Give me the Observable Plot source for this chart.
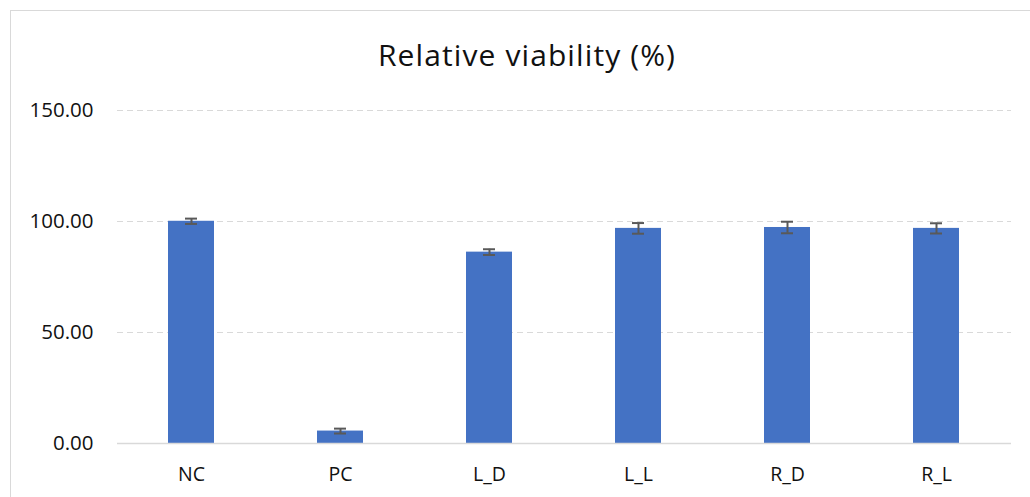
<!DOCTYPE html>
<html>
<head>
<meta charset="utf-8">
<script src="https://cdn.jsdelivr.net/npm/d3@7"></script>
<script src="https://cdn.jsdelivr.net/npm/@observablehq/plot@0.6"></script>
<style>
  html, body { margin: 0; padding: 0; background: #fff; }
  #wrap { position: relative; width: 1030px; height: 497px; overflow: hidden; background: #fff; }
  #frame { position: absolute; left: 10px; top: 10px; width: 1100px; height: 600px; border: 1.5px solid #d9d9d9; box-sizing: border-box; }
  #title { position: absolute; left: 0; width: 1054px; top: 35px; text-align: center; font-family: "Open Sans", sans-serif; font-size: 30px; letter-spacing: 1.1px; color: #111; line-height: 40px; }
  #chart { position: absolute; left: 0; top: 0; }
</style>
</head>
<body>
<div id="wrap">
  <div id="frame"></div>
  <div id="title">Relative viability (%)</div>
  <div id="chart"></div>
</div>
<script>
const categories = ["NC", "PC", "L_D", "L_L", "R_D", "R_L"];
const values = [100.1, 5.6, 86.2, 96.9, 97.3, 96.9];
const errors = [1.2, 1.1, 1.3, 2.4, 2.6, 2.3];
const yTicks = [0, 50, 100, 150];

const data = categories.map((c, i) => ({cat: c, v: values[i], e: errors[i]}));

const plot = Plot.plot({
  width: 1030,
  height: 497,
  marginLeft: 117,
  marginRight: 19,
  marginTop: 110,
  marginBottom: 54,
  style: {fontFamily: "'Open Sans', sans-serif", fontSize: "20px", color: "#111", background: "transparent"},
  x: {domain: categories, paddingInner: 0.69, paddingOuter: 0.345, align: 0.5, label: null},
  y: {domain: [0, 150], label: null},
  marks: [
    Plot.gridY(yTicks.filter(d => d > 0), {stroke: "#d9d9d9", strokeOpacity: 1, strokeWidth: 1.2, strokeDasharray: "6,4"}),
    Plot.barY(data, {x: "cat", y: "v", fill: "#4472C4"}),
    Plot.ruleY([0], {stroke: "#d9d9d9", strokeWidth: 1.5}),
    Plot.ruleX(data, {x: "cat", y1: d => d.v - d.e, y2: d => d.v + d.e, stroke: "#595959", strokeWidth: 2}),
    Plot.tickY(data, {x: "cat", y: d => d.v - d.e, stroke: "#595959", strokeWidth: 2, inset: 17}),
    Plot.tickY(data, {x: "cat", y: d => d.v + d.e, stroke: "#595959", strokeWidth: 2, inset: 17}),
    Plot.axisY({ticks: yTicks, tickSize: 0, tickPadding: 24, tickFormat: d => d.toFixed(2), fontSize: 20.5}),
    Plot.axisX({tickSize: 0, tickPadding: 24, fontSize: 19.5})
  ]
});
document.getElementById("chart").appendChild(plot);
</script>
</body>
</html>
